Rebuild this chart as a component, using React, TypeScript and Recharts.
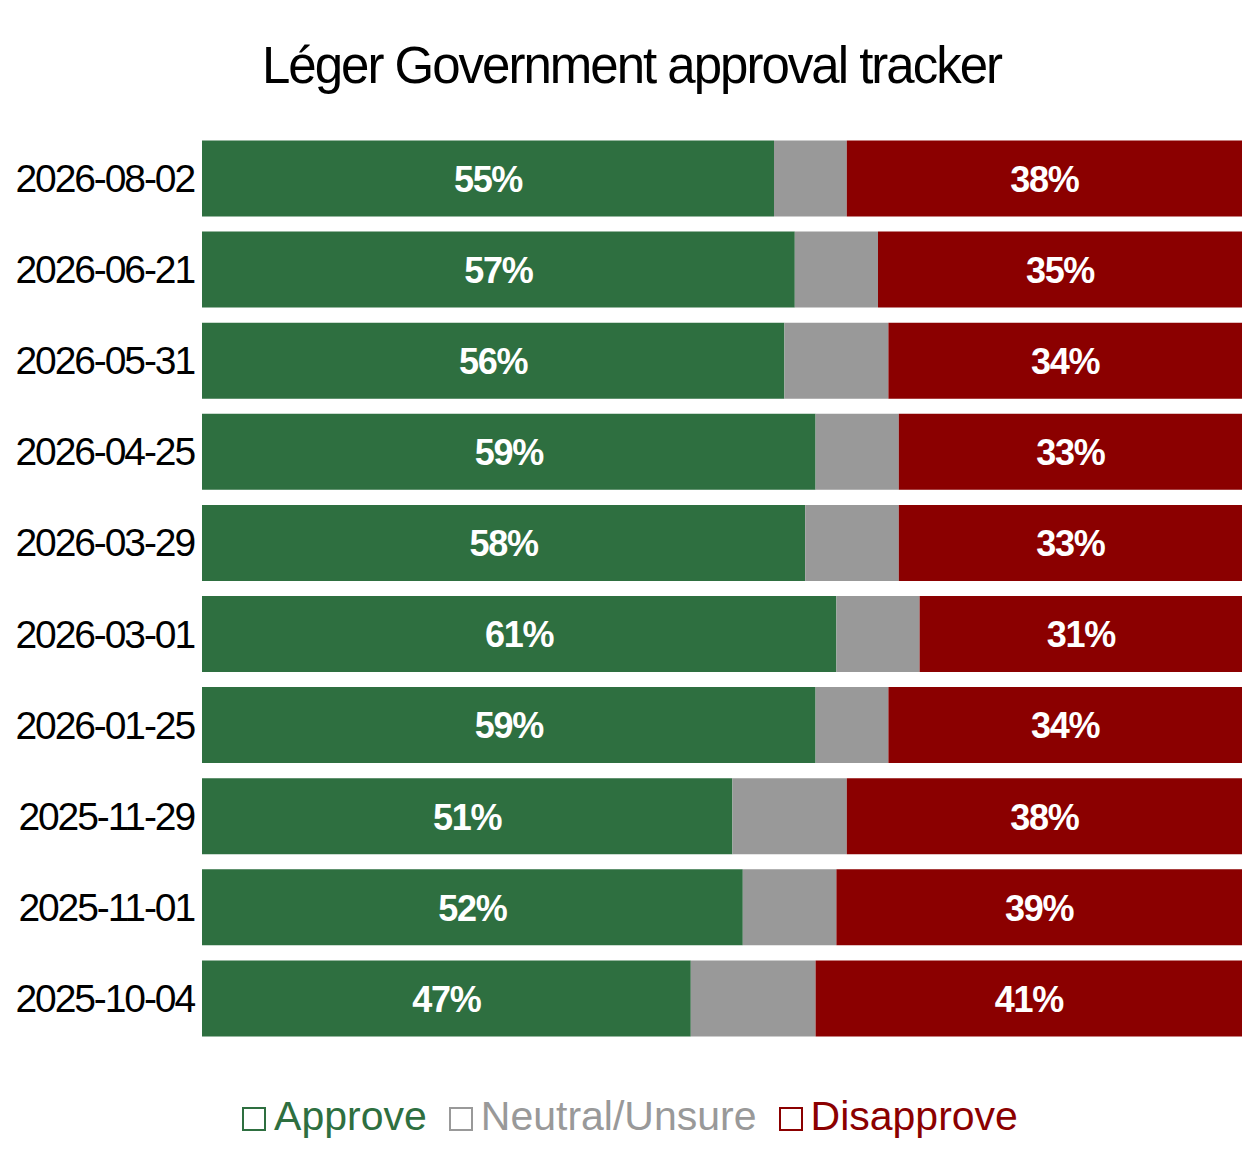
import { Bar, BarChart, LabelList, XAxis, YAxis } from "recharts";

const dates = [
  "2026-08-02",
  "2026-06-21",
  "2026-05-31",
  "2026-04-25",
  "2026-03-29",
  "2026-03-01",
  "2026-01-25",
  "2025-11-29",
  "2025-11-01",
  "2025-10-04",
];
const approve = [55, 57, 56, 59, 58, 61, 59, 51, 52, 47];
const neutral = [7, 8, 10, 8, 9, 8, 7, 11, 9, 12];
const disapprove = [38, 35, 34, 33, 33, 31, 34, 38, 39, 41];

const series = [
  { key: "approve", name: "Approve", color: "#2e6f40", label: true },
  { key: "neutral", name: "Neutral/Unsure", color: "#999999", label: false },
  { key: "disapprove", name: "Disapprove", color: "#8b0000", label: true },
];

const data = dates.map((date, i) => ({
  date,
  approve: approve[i],
  neutral: neutral[i],
  disapprove: disapprove[i],
}));

const FONT = '"Liberation Sans", Arial, Helvetica, sans-serif';

function DateTick(props: any) {
  const { x, y, payload } = props;
  return (
    <text
      x={x}
      y={y}
      dy="0.358em"
      textAnchor="end"
      fontFamily={FONT}
      fontSize={39}
      letterSpacing={-2.1}
      fill="#000"
    >
      {payload.value}
    </text>
  );
}

function PctLabel(props: any) {
  const { x, y, width, height, value } = props;
  return (
    <text
      x={x + width / 2}
      y={y + height / 2}
      dy="0.37em"
      textAnchor="middle"
      fontFamily={FONT}
      fontSize={36}
      fontWeight="bold"
      letterSpacing={-1.3}
      fill="#fff"
    >
      {value}%
    </text>
  );
}

export default function App() {
  return (
    <div
      style={{
        position: "absolute",
        left: 0,
        top: 0,
        width: 1260,
        height: 1162,
        background: "#fff",
        fontFamily: FONT,
      }}
    >
      <svg
        width={1260}
        height={110}
        style={{ position: "absolute", left: 0, top: 0 }}
      >
        <text
          x={631.5}
          y={83}
          textAnchor="middle"
          fontFamily={FONT}
          fontSize={51}
          letterSpacing={-2}
          fill="#000"
        >
          Léger Government approval tracker
        </text>
      </svg>

      <BarChart
        width={1260}
        height={1162}
        data={data}
        layout="vertical"
        margin={{ top: 132.5, right: 18, bottom: 118.5, left: 0 }}
        barSize={76}
      >
        <XAxis type="number" domain={[0, 100]} hide />
        <YAxis
          type="category"
          dataKey="date"
          width={202}
          axisLine={false}
          tickLine={false}
          tick={<DateTick />}
        />
        {series.map((s) => (
          <Bar
            key={s.key}
            dataKey={s.key}
            name={s.name}
            stackId="a"
            fill={s.color}
            isAnimationActive={false}
          >
            {s.label && <LabelList dataKey={s.key} content={<PctLabel />} />}
          </Bar>
        ))}
      </BarChart>

      <div
        style={{
          position: "absolute",
          left: 0,
          top: 1096,
          width: 1260,
          display: "flex",
          justifyContent: "center",
          gap: 22,
          fontSize: 41,
          lineHeight: "41px",
        }}
      >
        {series.map((s) => (
          <div
            key={s.key}
            style={{ display: "flex", alignItems: "center", color: s.color }}
          >
            <span
              style={{
                display: "inline-block",
                width: 20,
                height: 20,
                border: `2px solid ${s.color}`,
                marginRight: 8,
                marginTop: 4,
              }}
            />
            <span>{s.name}</span>
          </div>
        ))}
      </div>
    </div>
  );
}
